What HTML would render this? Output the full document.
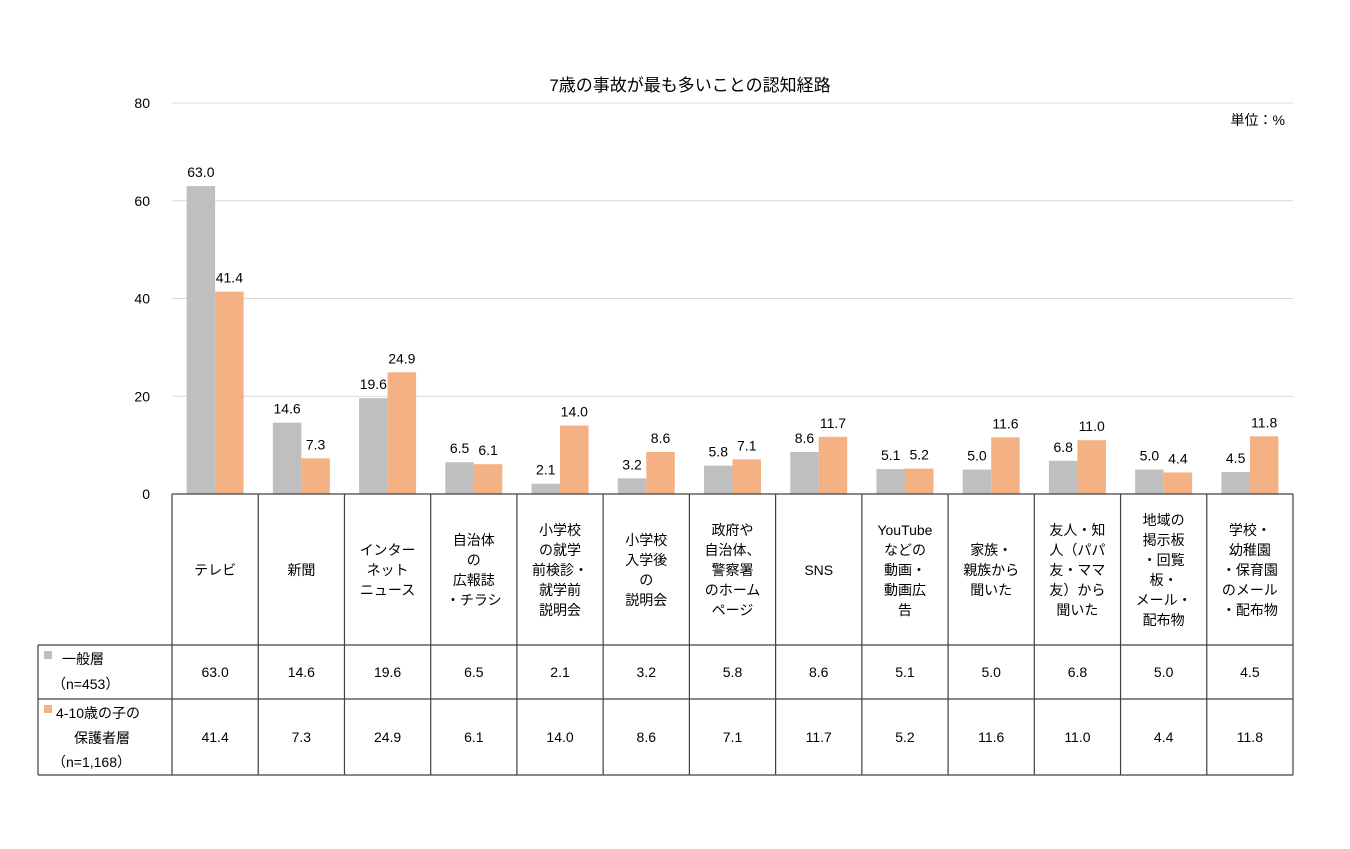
<!DOCTYPE html>
<html><head><meta charset="utf-8">
<style>
body{margin:0;background:#fff;}
svg text{font-family:"Liberation Sans","Noto Sans CJK JP",sans-serif;fill:#000;}
</style></head>
<body>
<svg id="c" width="1350" height="844" viewBox="0 0 1350 844" xmlns="http://www.w3.org/2000/svg">
<text x="690" y="91" font-size="17" text-anchor="middle">7歳の事故が最も多いことの認知経路</text>
<text x="1285" y="125" font-size="14" text-anchor="end">単位：%</text>
<g id="grid"></g><g id="bars"></g><g id="table"></g>
</svg>
<script>
const categories=[["テレビ"],["新聞"],["インター","ネット","ニュース"],["自治体","の","広報誌","・チラシ"],["小学校","の就学","前検診・","就学前","説明会"],["小学校","入学後","の","説明会"],["政府や","自治体、","警察署","のホーム","ページ"],["SNS"],["YouTube","などの","動画・","動画広","告"],["家族・","親族から","聞いた"],["友人・知","人（パパ","友・ママ","友）から","聞いた"],["地域の","掲示板","・回覧","板・","メール・","配布物"],["学校・","幼稚園","・保育園","のメール","・配布物"]];
const seriesGeneral=[63.0,14.6,19.6,6.5,2.1,3.2,5.8,8.6,5.1,5.0,6.8,5.0,4.5];
const seriesParents=[41.4,7.3,24.9,6.1,14.0,8.6,7.1,11.7,5.2,11.6,11.0,4.4,11.8];
const yTicks=[0,20,40,60,80];
const NS="http://www.w3.org/2000/svg";
const x0=172,x1=1293,yZero=494,yTop=103,yMax=80;
const colW=(x1-x0)/categories.length;
const y=v=>yZero-(v/yMax)*(yZero-yTop);
function mk(tag,attrs,parent,txt){const e=document.createElementNS(NS,tag);for(const k in attrs)e.setAttribute(k,attrs[k]);if(txt!==undefined)e.textContent=txt;parent.appendChild(e);return e;}
const grid=document.getElementById('grid'),bars=document.getElementById('bars'),table=document.getElementById('table');
yTicks.forEach(t=>{
  if(t>0){const l=mk('line',{x1:x0,x2:x1,y1:y(t),y2:y(t),stroke:'#d9d9d9','stroke-width':1},grid);
  
  }
  const tx=mk('text',{x:150,y:y(t)+5,'font-size':14,'text-anchor':'end'},grid,String(t));
  
  
});
const bw=28.5;
categories.forEach((c,i)=>{
  const cx=x0+colW*i+colW/2;
  const g=seriesGeneral[i],p=seriesParents[i];
  const b1=mk('rect',{x:cx-bw,y:y(g),width:bw,height:yZero-y(g),fill:'#bfbfbf'},bars);
  
  
  const b2=mk('rect',{x:cx,y:y(p),width:bw,height:yZero-y(p),fill:'#f4b183'},bars);
  
  
  const l1=mk('text',{x:cx-bw/2,y:y(g)-9,'font-size':14,'text-anchor':'middle'},bars,g.toFixed(1));
  
  
  const l2=mk('text',{x:cx+bw/2,y:y(p)-9,'font-size':14,'text-anchor':'middle'},bars,p.toFixed(1));
  
  
  // category cell text
  const lh=20,n=c.length,start=570-(n-1)*lh/2+5;
  c.forEach((ln,j)=>{const t=mk('text',{x:cx,y:start+j*lh,'font-size':14,'text-anchor':'middle'},table,ln);
    
    });
  const v1=mk('text',{x:cx,y:677,'font-size':14,'text-anchor':'middle'},table,g.toFixed(1));
  
  
  const v2=mk('text',{x:cx,y:742,'font-size':14,'text-anchor':'middle'},table,p.toFixed(1));
  
  
});
// table lines
const st={stroke:'#404040','stroke-width':1.2};
function L(a,b,c,d,name){const l=mk('line',Object.assign({x1:a,y1:b,x2:c,y2:d},st),table);
  
  }
L(x0,yZero,x1,yZero,'table-top-border');
L(38,645,x1,645,'table-row1-border');
L(38,699,x1,699,'table-row2-border');
L(38,775,x1,775,'table-bottom-border');
L(38,645,38,775,'table-left-border');
for(let i=0;i<=categories.length;i++)L(x0+colW*i,yZero,x0+colW*i,775,'table-column-border');
// legend keys in table
const k1=mk('rect',{x:44,y:651,width:8,height:8,fill:'#bfbfbf'},table);


const k2=mk('rect',{x:44,y:705,width:8,height:8,fill:'#f4b183'},table);


[["一般層",62,664],["（n=453）",52,689],["4-10歳の子の",56,718],["保護者層",74,743],["（n=1,168）",52,767]].forEach(([t,x,yy])=>{
  const e=mk('text',{x:x,y:yy,'font-size':14},table,t);
  
  
});
</script>
</body></html>
